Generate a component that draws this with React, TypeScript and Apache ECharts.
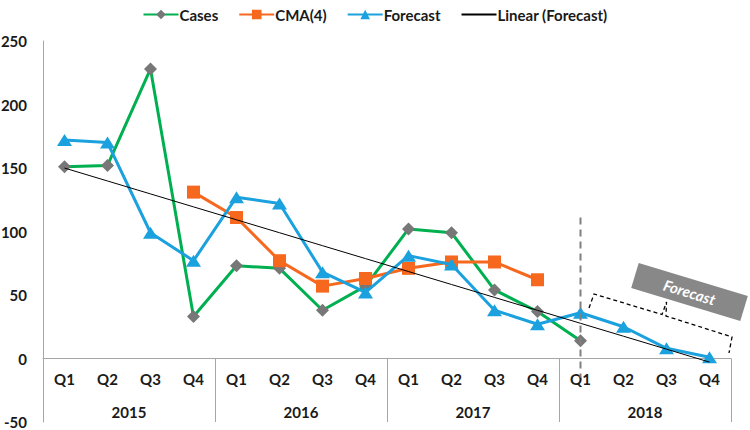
import React, { useEffect, useRef } from "react";
import * as echarts from "echarts";

const years = ["2015", "2016", "2017", "2018"];
const quarters = ["Q1", "Q2", "Q3", "Q4"];

const cases = [151, 152, 228, 33, 73, 71, 38, 57, 102, 99, 54, 37, 14, null, null, null];
const cma = [null, null, null, 131, 111, 77, 57, 63, 71, 76, 76, 62, null, null, null, null];
const forecast = [172, 170, 99, 77, 127, 122, 68, 52, 81, 74, 38, 27, 36, 25, 8, 1];

const yMin = -50;
const yMax = 250;
const yStep = 50;

const forecastStartIndex = 12; // 2018 Q1

// Least-squares linear trendline of the Forecast series (as Excel's "Linear (Forecast)")
function linearTrend(values: number[]): number[] {
  const n = values.length;
  const xs = values.map((_, i) => i + 1);
  const mx = xs.reduce((a, b) => a + b, 0) / n;
  const my = values.reduce((a, b) => a + b, 0) / n;
  let sxy = 0;
  let sxx = 0;
  for (let i = 0; i < n; i++) {
    sxy += (xs[i] - mx) * (values[i] - my);
    sxx += (xs[i] - mx) * (xs[i] - mx);
  }
  const slope = sxy / sxx;
  const intercept = my - slope * mx;
  return xs.map((x) => +(intercept + slope * x).toFixed(2));
}

const FONT = "Lato, 'Open Sans', 'DejaVu Sans', sans-serif";
const AXIS_GRAY = "#A6A6A6";

const GRID_TOP = 41;
const GRID_BOTTOM = 8;
const CHART_H = 430;

export default function App() {
  const ref = useRef<HTMLDivElement>(null);

  useEffect(() => {
    if (!ref.current) return;
    const chart = echarts.init(ref.current, null, { renderer: "svg" });
    const categories = years.flatMap((y) => quarters.map((q) => `${y} ${q}`));
    const trend = linearTrend(forecast);
    const gridH = CHART_H - GRID_TOP - GRID_BOTTOM;
    const zeroOffset = (gridH * (0 - yMin)) / (yMax - yMin);

    chart.setOption({
      animation: false,
      backgroundColor: "#ffffff",
      legend: {
        top: 2,
        left: "center",
        itemWidth: 35,
        itemHeight: 12,
        itemGap: 20,
        textStyle: { fontFamily: FONT, fontWeight: "bold", fontSize: 15, color: "#1a1a1a", padding: [0, 0, 0, -4] },
        data: [
          "Cases",
          "CMA(4)",
          "Forecast",
          { name: "Linear (Forecast)", itemStyle: { opacity: 0 } },
        ],
      },
      grid: { left: 43, right: 19, top: GRID_TOP, bottom: GRID_BOTTOM, containLabel: false, outerBoundsMode: "none" },
      xAxis: [
        {
          type: "category",
          data: categories,
          position: "bottom",
          offset: -zeroOffset,
          boundaryGap: true,
          axisLine: { onZero: false, lineStyle: { color: AXIS_GRAY, width: 1 } },
          axisTick: { show: false },
          splitLine: { show: false },
          axisLabel: {
            interval: 0,
            margin: 13,
            fontSize: 15,
            fontWeight: "bold",
            color: "#1a1a1a",
            fontFamily: FONT,
            formatter: (v: string) => v.split(" ")[1],
          },
        },
        {
          type: "category",
          data: years,
          position: "bottom",
          boundaryGap: true,
          axisLine: { show: false, onZero: false },
          axisTick: { show: true, inside: true, length: zeroOffset, lineStyle: { color: AXIS_GRAY, width: 1 } },
          splitLine: { show: false },
          axisLabel: {
            inside: true,
            interval: 0,
            margin: 3,
            fontSize: 15,
            fontWeight: "bold",
            color: "#1a1a1a",
            fontFamily: FONT,
          },
        },
      ],
      yAxis: {
        type: "value",
        min: yMin,
        max: yMax,
        interval: yStep,
        axisLine: { show: true, onZero: false, lineStyle: { color: AXIS_GRAY, width: 1 } },
        axisTick: { show: false },
        splitLine: { show: false },
        axisLabel: { margin: 16, fontSize: 15, fontWeight: "bold", color: "#1a1a1a", fontFamily: FONT },
      },
      series: [
        {
          name: "Cases",
          type: "line",
          data: cases,
          symbol: "diamond",
          symbolSize: 13,
          lineStyle: { color: "#00B050", width: 3 },
          itemStyle: { color: "#777777" },
          z: 3,
        },
        {
          name: "CMA(4)",
          type: "line",
          data: cma,
          symbol: "rect",
          symbolSize: 13,
          lineStyle: { color: "#F7681F", width: 3 },
          itemStyle: { color: "#F7681F" },
          z: 4,
        },
        {
          name: "Forecast",
          type: "line",
          data: forecast,
          symbol: "triangle",
          symbolSize: [15, 12],
          lineStyle: { color: "#1BA1DD", width: 3 },
          itemStyle: { color: "#1BA1DD" },
          z: 5,
        },
        {
          name: "Linear (Forecast)",
          type: "line",
          data: trend,
          symbol: "none",
          lineStyle: { color: "#000000", width: 1 },
          itemStyle: { color: "#000000" },
          z: 6,
        },
      ],
    });

    const vx = chart.convertToPixel({ xAxisIndex: 0 }, categories[forecastStartIndex]) as number;
    const vTop = chart.convertToPixel({ yAxisIndex: 0 }, 111) as number;
    const vBot = chart.convertToPixel({ yAxisIndex: 0 }, -15) as number;

    chart.setOption({
      graphic: [
        {
          type: "line",
          shape: { x1: vx, y1: vTop, x2: vx, y2: vBot },
          style: { stroke: "#808080", lineWidth: 2, lineDash: [7, 5] },
          z: 10,
        },
        {
          type: "polyline",
          shape: {
            points: [
              [589, 308],
              [594, 294],
              [662, 314.5],
              [666.5, 302],
              [666, 316],
              [732, 337],
              [729, 353],
            ],
          },
          style: { stroke: "#000000", fill: null, lineWidth: 1.3, lineDash: [4, 3] },
          z: 10,
        },
        {
          type: "group",
          x: 689.5,
          y: 292,
          rotation: -0.293,
          z: 11,
          children: [
            {
              type: "rect",
              shape: { x: -57, y: -13, width: 114, height: 26 },
              style: { fill: "#888888" },
            },
            {
              type: "text",
              x: 0,
              y: 0,
              style: {
                text: "Forecast",
                fill: "#ffffff",
                font: `italic bold 15px ${FONT}`,
                align: "center",
                verticalAlign: "middle",
              },
            },
          ],
        },
      ],
    });

    return () => chart.dispose();
  }, []);

  return <div ref={ref} style={{ width: 750, height: 430, position: "absolute", left: 0, top: 0 }} />;
}
